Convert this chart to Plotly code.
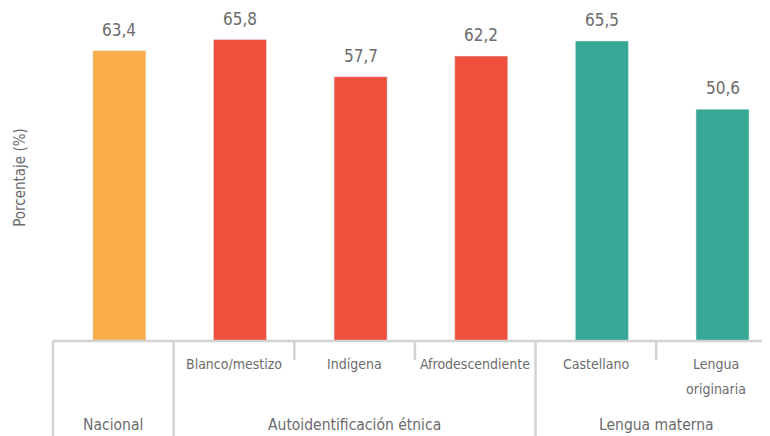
import plotly.graph_objects as go

categories = ["Nacional", "Blanco/mestizo", "Indígena", "Afrodescendiente", "Castellano", "Lengua<br>originaria"]
values = [63.4, 65.8, 57.7, 62.2, 65.5, 50.6]
value_labels = ["63,4", "65,8", "57,7", "62,2", "65,5", "50,6"]
groups = ["Nacional", "Autoidentificación étnica", "Lengua materna"]
group_members = [[0], [1, 2, 3], [4, 5]]
colors = ["#F9AD4B", "#EF4F3D", "#37A796"]
bar_colors = [colors[0], colors[1], colors[1], colors[1], colors[2], colors[2]]

FONT = "DejaVu Sans Condensed, Liberation Sans Narrow, sans-serif"
GRAY = "#6b6b6b"
LINE = "#d3d3d3"

W, H = 770, 436
ML, MR, MT, MB = 45, 0, 0, 103
PH = H - MT - MB
xr = [-0.55, 5.46]
yr = [0, 72.7]
SEP_OFF = 0.05  # separators sit slightly left of the category boundaries

x_idx = list(range(len(categories)))

fig = go.Figure(go.Bar(x=x_idx, y=values, marker_color=bar_colors, width=0.44,
                       hoverinfo="skip"))

ann = []
for i, (v, t) in enumerate(zip(values, value_labels)):
    ann.append(dict(x=i, y=v, xref="x", yref="y", text=t, showarrow=False,
                    yanchor="bottom", yshift=9, font=dict(family=FONT, size=17, color=GRAY)))
for i, c in enumerate(categories):
    if i == 0:
        continue
    for k, line in enumerate(c.split("<br>")):
        ann.append(dict(x=i - SEP_OFF, y=0, xref="x", yref="paper", text=line, showarrow=False,
                        yanchor="middle", yshift=-23 - 25 * k,
                        font=dict(family=FONT, size=14, color=GRAY)))
for g, mem in zip(groups, group_members):
    cx = (min(mem) - 0.5 + max(mem) + 0.5) / 2 - SEP_OFF
    ann.append(dict(x=cx, y=0, xref="x", yref="paper", text=g, showarrow=False,
                    yanchor="middle", yshift=-84, font=dict(family=FONT, size=15.5, color=GRAY)))
ann.append(dict(x=0, y=0.49, xref="paper", yref="paper", text="Porcentaje (%)", showarrow=False,
                textangle=-90, xshift=-44, font=dict(family=FONT, size=15, color=GRAY)))

def xpaper(v):
    return (v - xr[0]) / (xr[1] - xr[0])

shapes = []
full_seps = [-0.5, 0.5, 3.5]
short_seps = [1.5, 2.5, 4.5]
for s in full_seps:
    shapes.append(dict(type="line", xref="paper", yref="paper", x0=xpaper(s - SEP_OFF), x1=xpaper(s - SEP_OFF),
                       y0=0, y1=-0.35, line=dict(color=LINE, width=2.5)))
for s in short_seps:
    shapes.append(dict(type="line", xref="paper", yref="paper", x0=xpaper(s - SEP_OFF), x1=xpaper(s - SEP_OFF),
                       y0=0, y1=-19 / PH, line=dict(color=LINE, width=2.5)))
shapes.append(dict(type="line", xref="paper", yref="paper", x0=0, x1=1, y0=0, y1=0,
                   line=dict(color=LINE, width=2.5)))

fig.update_layout(
    width=W, height=H, margin=dict(l=ML, r=MR, t=MT, b=MB),
    paper_bgcolor="white", plot_bgcolor="white", showlegend=False,
    xaxis=dict(range=xr, showticklabels=False, showgrid=False, zeroline=False, ticks=""),
    yaxis=dict(range=yr, showticklabels=False, showgrid=False, zeroline=False, ticks=""),
    annotations=ann, shapes=shapes,
)
fig.write_html("out.html")
